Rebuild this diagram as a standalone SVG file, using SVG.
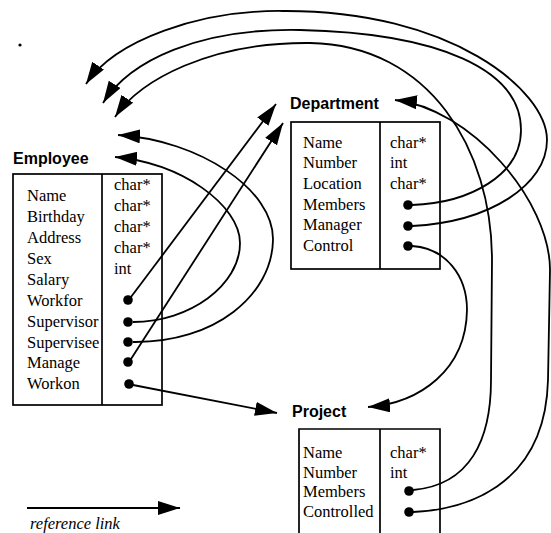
<svg xmlns="http://www.w3.org/2000/svg" width="551" height="533" viewBox="0 0 551 533">
  <style>
    .title { font-family: "Liberation Sans", Arial, sans-serif; font-weight: bold; font-size: 16px; fill: #000; }
    .lbl { font-family: "Liberation Serif", "Times New Roman", serif; font-size: 16.5px; fill: #000; }
    .box { fill: none; stroke: #000; stroke-width: 1.7; }
    .link { fill: none; stroke: #000; stroke-width: 1.8; marker-end: url(#head); }
    .ptr { fill: #000; }
  </style>
  <defs>
    <marker id="head" markerUnits="userSpaceOnUse" markerWidth="24" markerHeight="16" refX="22" refY="7" orient="auto">
      <path d="M0,0 L22,7 L0,14 z" fill="#000"/>
    </marker>
  </defs>
  <rect width="551" height="533" fill="#fff"/>

  <!-- stray speck -->
  <circle cx="20" cy="45" r="1.6" fill="#000"/>

  <!-- Employee -->
  <g id="employee">
    <text class="title" x="13" y="164">Employee</text>
    <rect class="box" x="13" y="174" width="149" height="231"/>
    <line class="box" x1="102" y1="174" x2="102" y2="405"/>
    <text class="lbl" x="27" y="201">Name</text>
    <text class="lbl" x="27" y="222">Birthday</text>
    <text class="lbl" x="27" y="243">Address</text>
    <text class="lbl" x="27" y="264">Sex</text>
    <text class="lbl" x="27" y="285">Salary</text>
    <text class="lbl" x="27" y="306">Workfor</text>
    <text class="lbl" x="27" y="327">Supervisor</text>
    <text class="lbl" x="27" y="348">Supervisee</text>
    <text class="lbl" x="27" y="368">Manage</text>
    <text class="lbl" x="27" y="389">Workon</text>
    <text class="lbl" x="114" y="190">char*</text>
    <text class="lbl" x="114" y="211">char*</text>
    <text class="lbl" x="114" y="232">char*</text>
    <text class="lbl" x="114" y="253">char*</text>
    <text class="lbl" x="114" y="274">int</text>
    <circle class="ptr" cx="128" cy="300" r="4.8"/>
    <circle class="ptr" cx="128" cy="322" r="4.8"/>
    <circle class="ptr" cx="128" cy="342" r="4.8"/>
    <circle class="ptr" cx="128" cy="362" r="4.8"/>
    <circle class="ptr" cx="129" cy="384" r="4.8"/>
  </g>

  <!-- Department -->
  <g id="department">
    <text class="title" x="290" y="109">Department</text>
    <rect class="box" x="291" y="122" width="149" height="147"/>
    <line class="box" x1="380" y1="122" x2="380" y2="269"/>
    <text class="lbl" x="303" y="148">Name</text>
    <text class="lbl" x="303" y="168">Number</text>
    <text class="lbl" x="303" y="189">Location</text>
    <text class="lbl" x="303" y="210">Members</text>
    <text class="lbl" x="303" y="230">Manager</text>
    <text class="lbl" x="303" y="251">Control</text>
    <text class="lbl" x="390" y="148">char*</text>
    <text class="lbl" x="390" y="168">int</text>
    <text class="lbl" x="390" y="189">char*</text>
    <circle class="ptr" cx="408" cy="205" r="4.8"/>
    <circle class="ptr" cx="408" cy="226" r="4.8"/>
    <circle class="ptr" cx="408" cy="246" r="4.8"/>
  </g>

  <!-- Project -->
  <g id="project">
    <text class="title" x="292" y="417">Project</text>
    <path class="box" d="M299,540 V429 H440 V540 M380,429 V540"/>
    <text class="lbl" x="303" y="458">Name</text>
    <text class="lbl" x="303" y="478">Number</text>
    <text class="lbl" x="303" y="497">Members</text>
    <text class="lbl" x="303" y="517">Controlled</text>
    <text class="lbl" x="390" y="458">char*</text>
    <text class="lbl" x="390" y="478">int</text>
    <circle class="ptr" cx="409" cy="491" r="4.8"/>
    <circle class="ptr" cx="409" cy="512" r="4.8"/>
  </g>

  <!-- reference links -->
  <g id="links">
    <!-- Employee.Workfor -> Department -->
    <path class="link" d="M131,297 L276,104"/>
    <!-- Employee.Manage -> Department -->
    <path class="link" d="M131,359 L283,123"/>
    <!-- Employee.Workon -> Project -->
    <path class="link" d="M133,385 L277,413"/>
    <!-- Employee.Supervisor -> Employee -->
    <path class="link" d="M133,322 C190,322 240,285 240,243 C240,205 180,162 115,157"/>
    <!-- Employee.Supervisee -> Employee -->
    <path class="link" d="M133,342 C215,343 272,295 273,240 C274,190 200,140 118,135"/>
    <!-- Department.Control -> Project -->
    <path class="link" d="M412,246 C445,248 467,275 467,310 C466,370 420,403 368,407"/>
    <!-- Department.Members -> Employee -->
    <path class="link" d="M412,205 C470,203 521,175 521,130 C521,70 440,33 300,30 C200,28 130,60 103,103"/>
    <!-- Department.Manager -> Employee -->
    <path class="link" d="M412,226 C490,222 547,185 547,140 C547,90 450,10 283,11 C200,10 115,40 86,84"/>
    <!-- Project.Members -> Employee -->
    <path class="link" d="M413,490 C470,485 491,440 491,380 L492,260 C492,150 430,45 310,43 C210,42 140,80 115,117"/>
    <!-- Project.Controlled -> Department -->
    <path class="link" d="M413,512 C460,510 545,490 548,380 L550,270 C550,200 470,108 395,100"/>
  </g>

  <!-- legend -->
  <g id="legend">
    <path class="link" d="M27,508 L180,508"/>
    <text class="lbl" x="30" y="529" font-style="italic">reference link</text>
  </g>
</svg>
